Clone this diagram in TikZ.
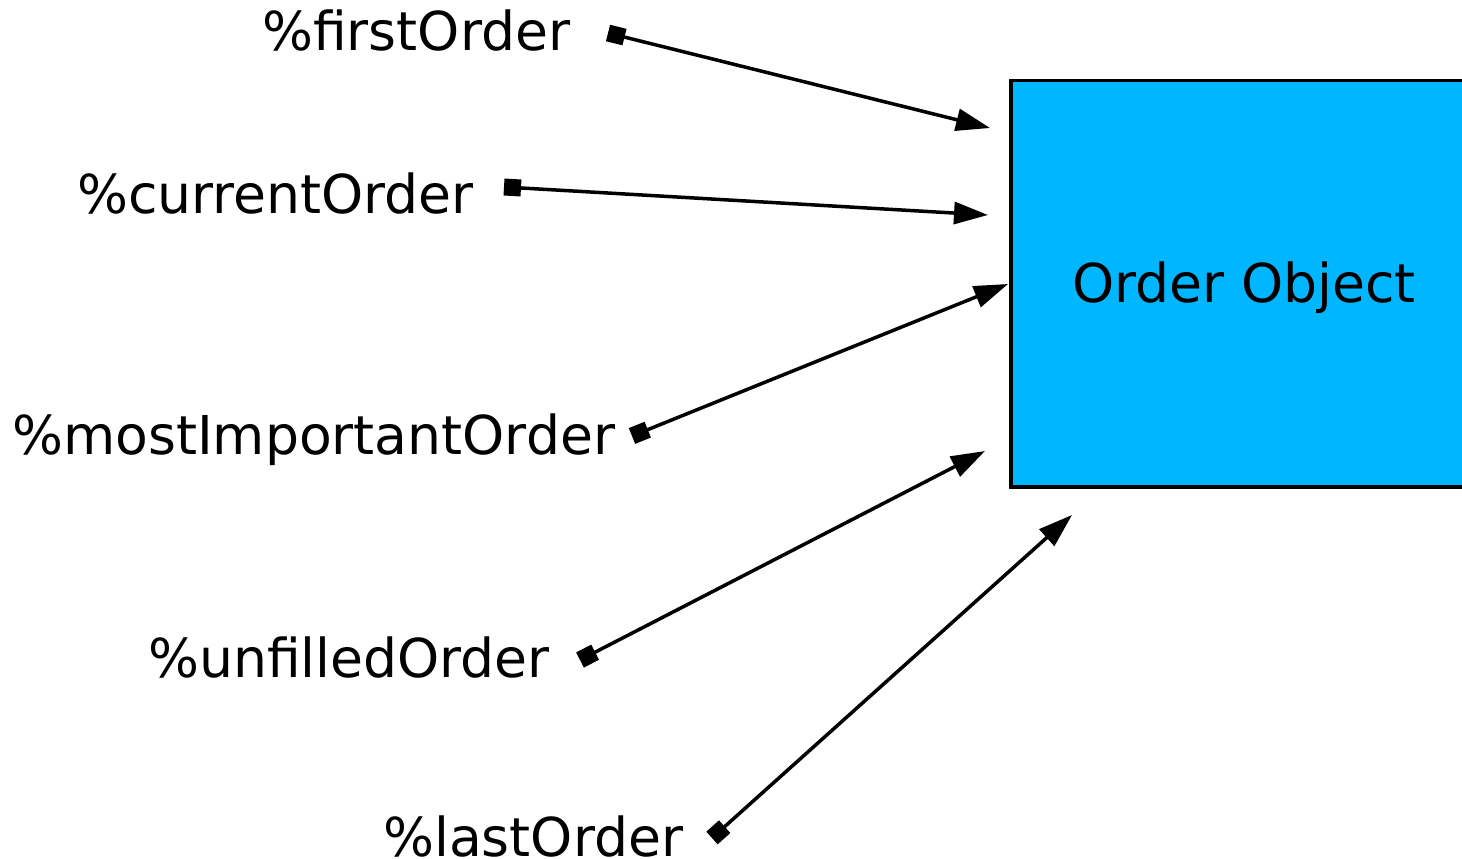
\documentclass[tikz,border=0pt]{standalone}
\usepackage{fontspec}
\setmainfont{DejaVu Sans}
\usetikzlibrary{arrows.meta}
\definecolor{objblue}{RGB}{0,183,255}
\begin{document}
\begin{tikzpicture}[x=1pt,y=-1pt,
  lbl/.style={anchor=base west,inner sep=0pt,font=\fontsize{53.6}{60}\selectfont},
  ptr/.style={line width=3.5pt,{Square[length=17pt,width=17pt]}-{Triangle[length=34pt,width=22pt]}}]
\clip (0,0) rectangle (1462,859);
\fill[white] (0,0) rectangle (1462,859);
% the object box, running off the right edge
\node[draw,line width=3.5pt,fill=objblue,minimum width=470pt,minimum height=406pt,anchor=north west,inner sep=0pt] (obj) at (1009,79) {};
\node[anchor=base,inner sep=0pt,font=\fontsize{53.6}{60}\selectfont] (objtxt) at (1244,302) {Order Object};
% variable names
\node[lbl] (first) at (262,51) {\%firstOrder};
\node[lbl] (current) at (77,213) {\%currentOrder};
\node[lbl] (most) at (12,454) {\%mostImportantOrder};
\node[lbl] (unfilled) at (148,677) {\%unfilledOrder};
\node[lbl] (last) at (383,856) {\%lastOrder};
% pointer origins and targets
\coordinate (s1) at (608,33);  \coordinate (e1) at (990,128);
\coordinate (s2) at (504,187); \coordinate (e2) at (988,215);
\coordinate (s3) at (632,436); \coordinate (e3) at (1008,284);
\coordinate (s4) at (580,660); \coordinate (e4) at (985,451);
\coordinate (s5) at (712,838); \coordinate (e5) at (1072,515);
\draw[ptr] (s1) -- (e1);
\draw[ptr] (s2) -- (e2);
\draw[ptr] (s3) -- (e3);
\draw[ptr] (s4) -- (e4);
\draw[ptr] (s5) -- (e5);
\end{tikzpicture}
\end{document}
